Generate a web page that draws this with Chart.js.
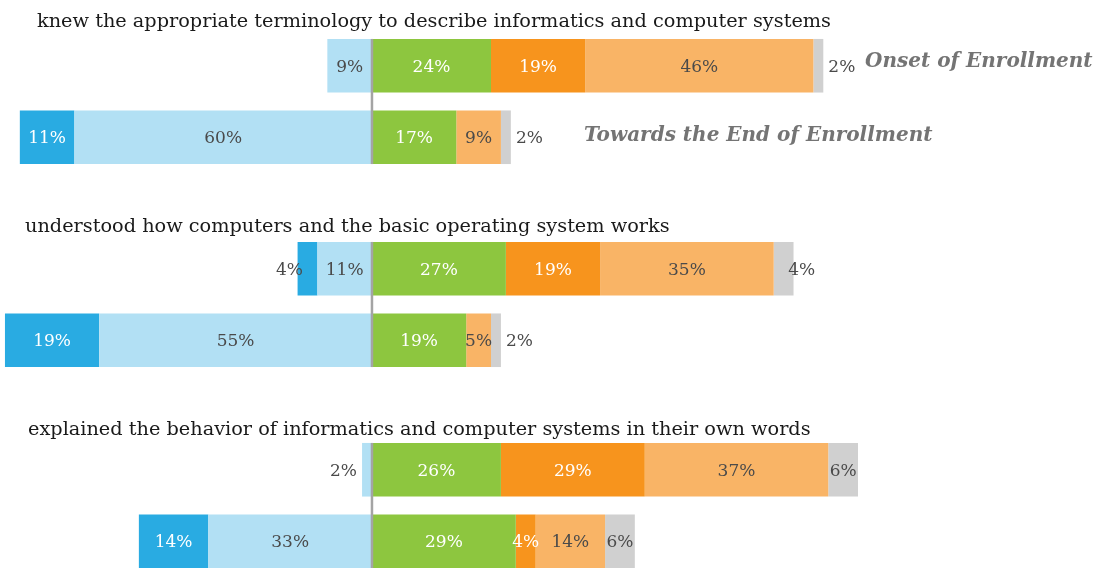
<!DOCTYPE html>
<html>
<head>
<meta charset="utf-8">
<script src="https://cdn.jsdelivr.net/npm/chart.js@4.4.1/dist/chart.umd.min.js"></script>
<style>
  html, body { margin: 0; padding: 0; background: #ffffff; overflow: hidden; }
  body { width: 1106px; height: 568px; position: relative; }
  .grp { position: absolute; left: 0; width: 1106px; height: 173px; }
</style>
</head>
<body>
<div class="grp" style="top:0px"><canvas id="c0" width="1106" height="173"></canvas></div>
<div class="grp" style="top:203px"><canvas id="c1" width="1106" height="173"></canvas></div>
<div class="grp" style="top:404px"><canvas id="c2" width="1106" height="173"></canvas></div>
<script>
// ---- DATA ----
const categories = ["Onset of Enrollment", "Towards the End of Enrollment"];
const questions = [
  "knew the appropriate terminology to describe informatics and computer systems",
  "understood how computers and the basic operating system works",
  "explained the behavior of informatics and computer systems in their own words"
];
// rows: Q1 onset, Q1 end, Q2 onset, Q2 end, Q3 onset, Q3 end (percent)
const disagree         = [9, 60, 11, 55, 2, 33];   // light blue (left)
const stronglyDisagree = [0, 11, 4, 19, 0, 14];    // dark blue (left, outer)
const somewhatAgree    = [24, 17, 27, 19, 26, 29]; // green
const agree            = [19, 0, 19, 0, 29, 4];    // orange
const stronglyAgree    = [46, 9, 35, 5, 37, 14];   // light orange
const notApplicable    = [2, 2, 4, 2, 6, 6];       // gray
const xMin = -75, xMax = 148;

// ---- STYLE ----
const seriesDefs = [
  { name: "Disagree",          values: disagree,         side: -1, color: "#b2e0f4", text: "#4a4a4a" },
  { name: "Strongly Disagree", values: stronglyDisagree, side: -1, color: "#29abe2", text: "#ffffff" },
  { name: "Somewhat Agree",    values: somewhatAgree,    side:  1, color: "#8dc63f", text: "#ffffff" },
  { name: "Agree",             values: agree,            side:  1, color: "#f7941d", text: "#ffffff" },
  { name: "Strongly Agree",    values: stronglyAgree,    side:  1, color: "#f9b466", text: "#4a4a4a" },
  { name: "Not Applicable",    values: notApplicable,    side:  1, color: "#d0d0d0", text: "#4a4a4a" }
];
const FONT = '"DejaVu Serif", "Liberation Serif", serif';
const titleLayout = [ {x: 37, y: 26.5}, {x: 25, y: 28.5}, {x: 28, y: 30.5} ];
const catLabelX = [865, 584];

const labelPlugin = {
  id: 'labelPlugin',
  afterDatasetsDraw(chart, args, opts) {
    const ctx = chart.ctx;
    const g = opts.group;
    const xs = chart.scales.x;
    // center line
    const m0 = chart.getDatasetMeta(0).data;
    const x0 = xs.getPixelForValue(0);
    ctx.save();
    ctx.strokeStyle = '#a4a4a4';
    ctx.lineWidth = 2.5;
    ctx.beginPath();
    ctx.moveTo(x0, m0[0].y - m0[0].height / 2);
    ctx.lineTo(x0, m0[1].y + m0[1].height / 2);
    ctx.stroke();
    ctx.restore();

    // value labels
    ctx.save();
    ctx.font = '17px ' + FONT;
    ctx.textAlign = 'center';
    ctx.textBaseline = 'alphabetic';
    for (let r = 0; r < 2; r++) {
      const row = 2 * g + r;
      let outerNeg = -1, outerPos = -1;
      seriesDefs.forEach((s, d) => {
        if (s.values[row] > 0) { if (s.side < 0) outerNeg = d; else outerPos = d; }
      });
      seriesDefs.forEach((s, d) => {
        const v = s.values[row];
        if (!v) return;
        const el = chart.getDatasetMeta(d).data[r];
        let cx = (el.x + el.base) / 2;
        let color = s.text;
        if ((d === outerNeg || d === outerPos) && v < 5) {
          cx += s.side * (29 - 2.75 * v);
          color = '#4a4a4a';
        }
        ctx.fillStyle = color;
        ctx.fillText(v + '%', cx, el.y + 6);
      });
    }
    ctx.restore();

    // question title
    ctx.save();
    ctx.font = '19.3px ' + FONT;
    ctx.fillStyle = '#1a1a1a';
    ctx.textAlign = 'left';
    ctx.textBaseline = 'alphabetic';
    ctx.fillText(questions[g], titleLayout[g].x, titleLayout[g].y);
    ctx.restore();

    // period labels only in first group
    if (g === 0) {
      ctx.save();
      ctx.font = 'italic bold 20px ' + FONT;
      ctx.fillStyle = '#747474';
      ctx.textAlign = 'left';
      ctx.textBaseline = 'alphabetic';
      for (let r = 0; r < 2; r++) {
        const el = chart.getDatasetMeta(0).data[r];
        ctx.fillText(categories[r], catLabelX[r], el.y + (r === 0 ? 1.5 : 3.5));
      }
      ctx.restore();
    }
  }
};

for (let g = 0; g < 3; g++) {
  const datasets = seriesDefs.map(s => ({
    label: s.name,
    data: [s.values[2 * g] * s.side, s.values[2 * g + 1] * s.side],
    backgroundColor: s.color,
    borderWidth: 0,
    barPercentage: 0.75,
    categoryPercentage: 1.0
  }));
  new Chart(document.getElementById('c' + g), {
    type: 'bar',
    data: { labels: categories, datasets },
    options: {
      indexAxis: 'y',
      responsive: false,
      animation: false,
      devicePixelRatio: 1,
      layout: { padding: { top: 30, left: 0, right: 0, bottom: 0 } },
      scales: {
        x: { stacked: true, min: xMin, max: xMax, display: false },
        y: { stacked: true, display: false }
      },
      plugins: {
        legend: { display: false },
        tooltip: { enabled: false },
        title: { display: false },
        labelPlugin: { group: g }
      }
    },
    plugins: [labelPlugin]
  });
}
</script>
</body>
</html>
